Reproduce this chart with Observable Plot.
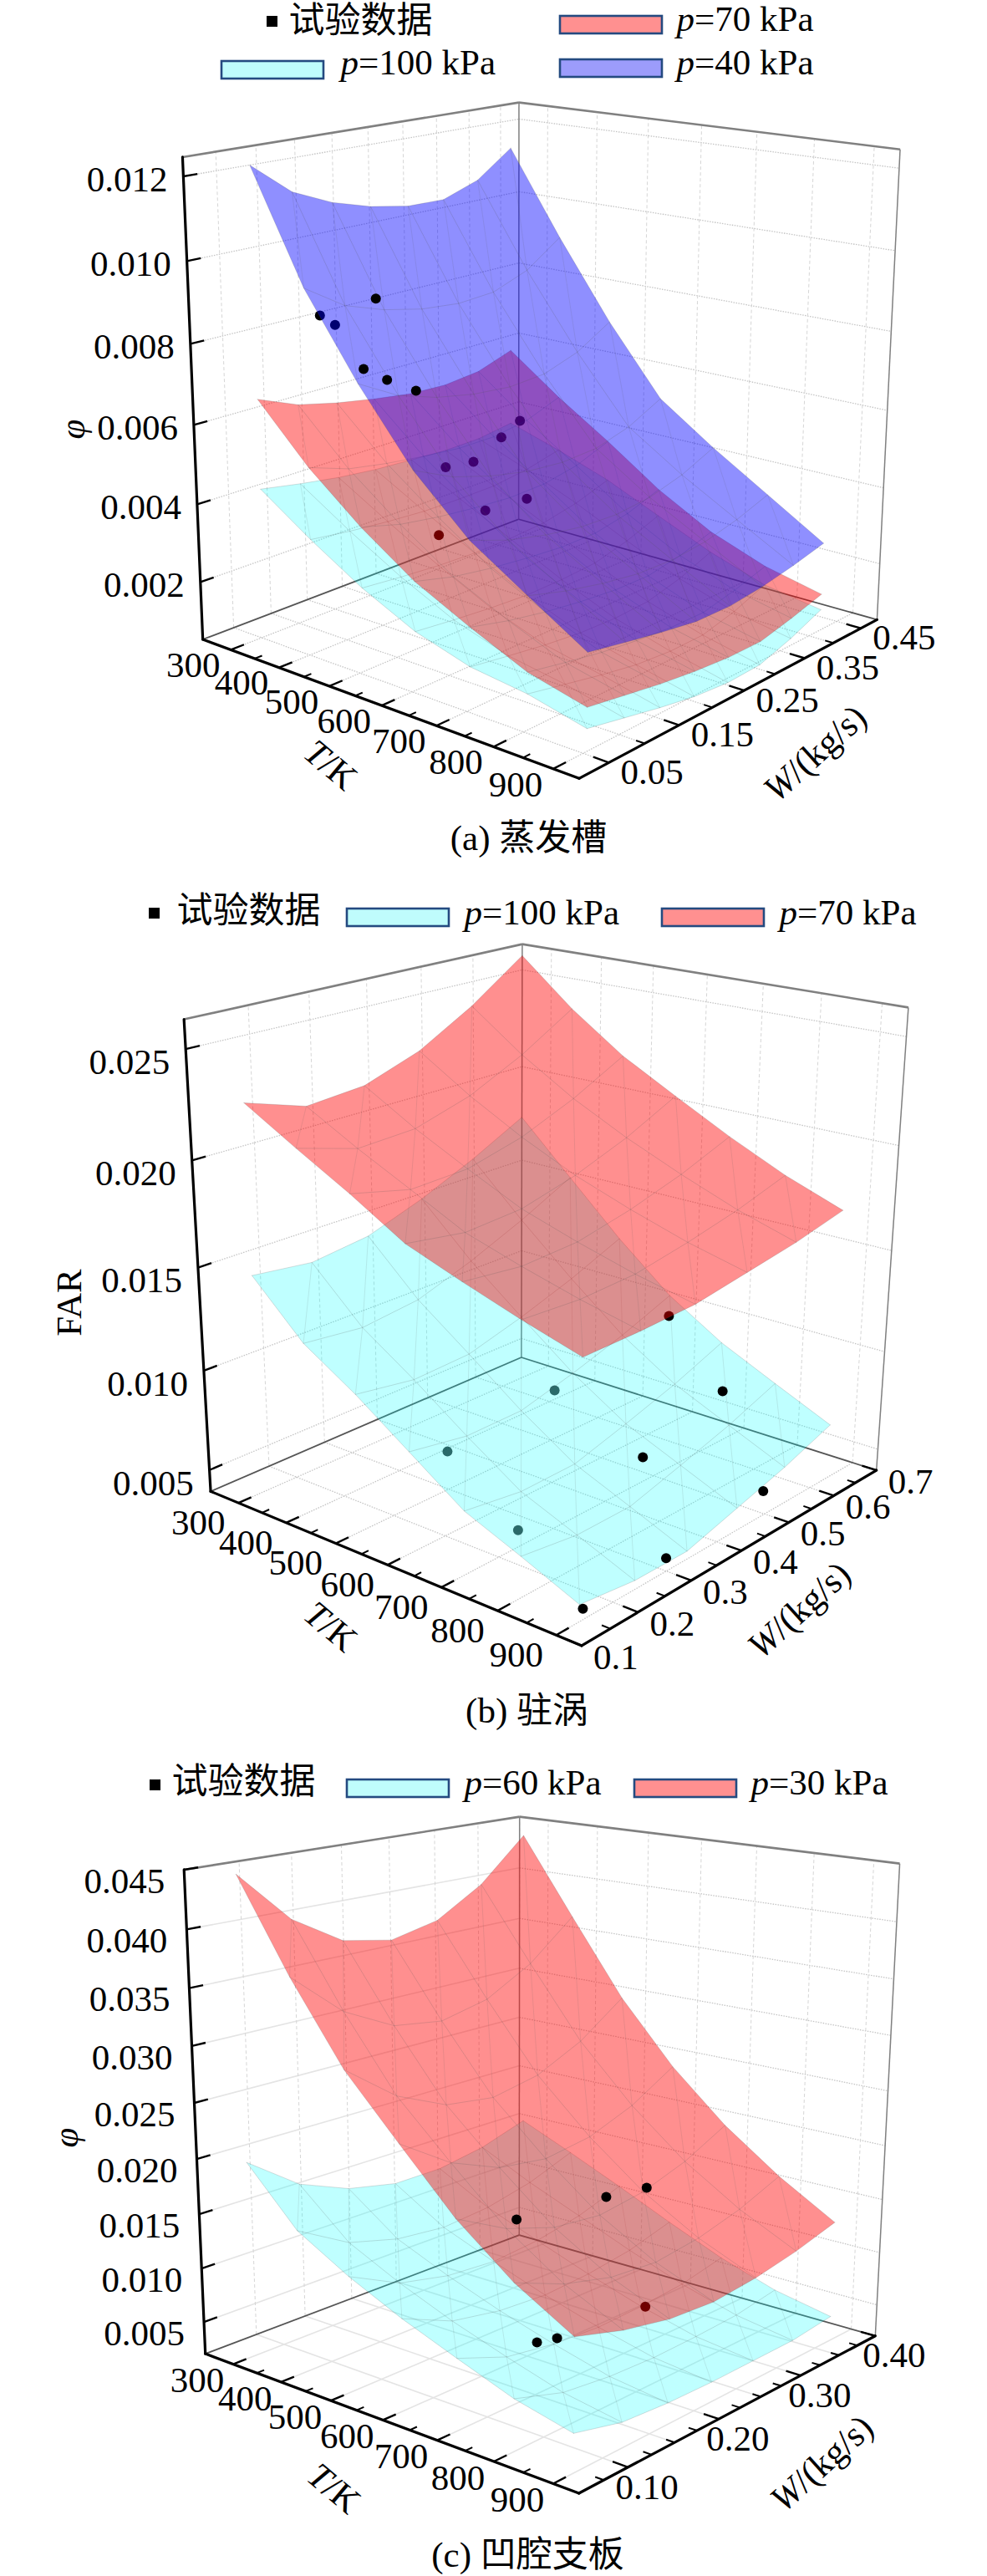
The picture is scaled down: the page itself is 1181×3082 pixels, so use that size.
<!DOCTYPE html><html><head><meta charset="utf-8"><script src="https://cdn.jsdelivr.net/npm/d3@7"></script><script src="https://cdn.jsdelivr.net/npm/@observablehq/plot@0.6"></script>
<style>html,body{margin:0;background:#fff}svg{display:block}</style></head><body><div id="chart"></div><script>
// ---------- data ----------
const temps=[300,400,500,600,700,800,900];
const minorTemps=[350,450,550,650,750,850];
// (a) 蒸发槽
const aFlows=[.055,.107,.159,.211,.264,.316,.368,.42];
const aBlue=[[.01223,.01142,.01098,.01069,.01051,.01049,.01082,.0115],[.00956,.00891,.00857,.00835,.00825,.00831,.00866,.00932],[.00758,.00702,.00669,.00649,.00639,.00645,.00676,.00731],[.00586,.00538,.00508,.00487,.00478,.00483,.00509,.00555],[.00458,.00423,.004,.00385,.00381,.00391,.00417,.00457],[.00369,.00342,.00322,.00308,.00305,.00315,.00337,.00368],[.00282,.00264,.00247,.00233,.00231,.00241,.00258,.00279]];
const aRed=[[.00658,.00616,.00592,.00574,.00559,.00555,.00565,.00597],[.00522,.00487,.00469,.00456,.00446,.00446,.00461,.00496],[.00412,.00384,.00368,.00357,.0035,.00353,.00371,.00406],[.00319,.00293,.00277,.00266,.00258,.00259,.00277,.00309],[.00251,.00227,.00209,.00196,.00187,.00186,.00203,.00231],[.00189,.0017,.00153,.00141,.00133,.00132,.00152,.00178],[.00154,.00138,.00122,.0011,.00102,.00101,.00121,.00145]];
const aCyan=[[.00432,.00413,.00397,.00386,.0038,.00375,.00377,.00391],[.00342,.00328,.00318,.00311,.0031,.00312,.00325,.00348],[.00261,.00251,.00243,.00239,.00241,.00248,.00268,.00299],[.00196,.00185,.00176,.0017,.00172,.00179,.00203,.00237],[.00155,.0014,.00126,.00116,.00113,.00118,.00141,.00176],[.00137,.00117,.00097,.0008,.00072,.00073,.00095,.00128],[.00104,.00084,.00064,.00047,.00038,.00041,.00068,.00104]];
const aPointT=[300,300,300,300,300,300,500,500,500,400,600,500,400];
const aPointW=[.216,.139,.159,.197,.23,.272,.279,.251,.21,.243,.211,.227,.232];
const aPointV=[.00833,.00825,.00792,.0066,.00614,.00563,.00543,.00516,.00477,.00408,.00418,.0034,.00233];
const aPointLayer=[3,1,1,3,3,3,1,1,1,1,1,1,1];
// (b) 驻涡
const bFlows=[.14,.24,.34,.44,.54,.64];
const bRed=[[.02264,.02173,.02195,.0229,.02442,.0263],[.02119,.02036,.02048,.02127,.02253,.02412],[.0198,.01911,.0192,.01987,.02094,.02229],[.01828,.01783,.01799,.01867,.01963,.02086],[.01734,.01702,.01715,.01772,.01849,.01947],[.01647,.0163,.01641,.01688,.01746,.01822],[.01568,.0157,.01581,.01622,.01663,.0172]];
const bCyan=[[.01466,.0143,.01464,.01559,.01676,.01812],[.0122,.01187,.01219,.01313,.01427,.01558],[.01061,.01015,.01027,.01104,.01196,.01306],[.00879,.00829,.00831,.00901,.00983,.01082],[.00696,.00654,.00658,.00733,.00815,.00915],[.00586,.00545,.00545,.00617,.00693,.00787],[.0047,.00433,.00429,.00501,.00573,.00662]];
const bPointT=[800,600,900,400,800,900,800,900,900];
const bPointW=[.407,.404,.4,.391,.363,.495,.135,.299,.146];
const bPointV=[.01379,.00856,.01117,.00374,.00756,.00512,.00715,.00454,.00441];
const bPointLayer=[1,0,2,0,2,2,0,2,2];
// (c) 凹腔支板
const cFlows=[.07,.12,.17,.22,.27,.32,.37];
const cRed=[[.04473,.04012,.03738,.03653,.03747,.04002,.04393],[.03695,.03299,.03068,.03002,.03097,.03332,.03687],[.03016,.02671,.02467,.02407,.0249,.02691,.02994],[.0251,.02211,.02027,.01966,.02029,.0219,.02435],[.02013,.01775,.01629,.01583,.01645,.01782,.01986],[.01625,.01445,.01333,.01299,.01355,.01464,.01624],[.01336,.01207,.01122,.01095,.01138,.01214,.01322]];
const cCyan=[[.01986,.01645,.01456,.01358,.01361,.01435,.01572],[.01504,.01238,.01112,.01065,.01105,.01204,.01364],[.01238,.0101,.00909,.00876,.00916,.01003,.01146],[.01018,.00818,.00734,.00705,.00735,.008,.00919],[.00832,.00656,.00585,.00557,.00574,.00614,.00704],[.00653,.00509,.00456,.00436,.00445,.00467,.00534],[.00537,.00424,.0039,.00378,.00381,.00384,.0043]];
const cPointT=[800,700,500,800,600,600];
const cPointW=[.208,.227,.246,.209,.211,.234];
const cPointV=[.01993,.01726,.01195,.00939,.00289,.00244];
const cPointLayer=[2,2,2,1,2,2];
// tick values
const aZTicks=[.002,.004,.006,.008,.010,.012], aWMajor=[.05,.15,.25,.35,.45], aWMinor=[.1,.2,.3,.4], aWGrid=[.05,.1,.15,.2,.25,.3,.35,.4,.45];
const bZTicks=[.005,.010,.015,.020,.025], bWMajor=[.1,.2,.3,.4,.5,.6,.7], bWMinor=[.15,.25,.35,.45,.55,.65], bWGrid=[.2,.3,.4,.5,.6];
const cZTicks=[.005,.010,.015,.020,.025,.030,.035,.040,.045], cWMajor=[.1,.2,.3,.4], cWMinor=[.075,.125,.15,.175,.225,.25,.275,.325,.35,.375], cWGrid=[.1,.15,.2,.25,.3,.35,.4];
// ---------- palette ----------
const CY="#00ffff",RD="#ff0000",BL="#0000ff",OP={[CY]:.25,[RD]:.44,[BL]:.44};
const SW={[CY]:"#bffcfc",[RD]:"#ff9090",[BL]:"#9c9cfb"};
const FONT="'Liberation Serif','Noto Sans CJK SC',serif",FS=43;
// ---------- camera calibration: where the box corners of each 3D frame sit ----------
const camA={T:[240,942],W:[.01,.48],Z:[.0005,.01245],A:[241,765],B:[693,931],C:[1048,741],D:[621,621],Ap:[216,188],Dp:[620,122],Cp:[1077,178],zt:[[.012,218,211],[.010,226,312],[.008,228,411],[.006,232,507],[.004,235,602],[.002,239,696]]};
const camB={T:[240,942],W:[.1,.7],Z:[.0039,.0263],A:[248.5,1784],B:[694,1969],C:[1049,1757],D:[623.5,1624],Ap:[218,1218],Dp:[623,1129],Cp:[1087,1206],zt:[[.025,222,1254],[.020,230,1388.5],[.015,239,1516],[.010,245,1640],[.005,251,1758]]};
const camC={T:[240,942],W:[.05,.40],Z:[.002,.045],A:[241,2817],B:[691,2983],C:[1047,2793],D:[621,2674],Ap:[216,2237],Dp:[620,2173],Cp:[1077,2230],zt:[[.040,224,2308],[.035,227,2377],[.030,230,2447],[.025,233,2516],[.020,236,2582],[.015,239,2648],[.010,242,2713],[.005,245,2778]]};
function lsq(A,b){const n=A[0].length,M=Array.from({length:n},()=>Array(n+1).fill(0));A.forEach((r,k)=>{for(let i=0;i<n;i++){for(let j=0;j<n;j++)M[i][j]+=r[i]*r[j];M[i][n]+=r[i]*b[k];}});
 for(let i=0;i<n;i++){let p=i;for(let r=i;r<n;r++)if(Math.abs(M[r][i])>Math.abs(M[p][i]))p=r;[M[i],M[p]]=[M[p],M[i]];for(let r=0;r<n;r++)if(r!=i){const f=M[r][i]/M[i][i];for(let c=i;c<=n;c++)M[r][c]-=f*M[i][c];}}return M.map((r,i)=>r[n]/r[i]);}
function camera(P){const an=[];const add=(u,v,w,p)=>an.push([u,v,w,p[0],p[1]]);
 add(0,0,0,P.A);add(1,0,0,P.B);add(1,1,0,P.C);add(0,1,0,P.D);add(0,0,1,P.Ap);add(1,1,1,P.Cp);add(0,1,1,P.Dp);
 P.zt.forEach(t=>add(0,0,(t[0]-P.Z[0])/(P.Z[1]-P.Z[0]),[t[1],t[2]]));
 const A=[],b=[];an.forEach(([u,v,w,x,y])=>{A.push([1,u,v,w,0,0,0,0,-x*u,-x*v,-x*w]);b.push(x);A.push([0,0,0,0,1,u,v,w,-y*u,-y*v,-y*w]);b.push(y);});
 const m=lsq(A,b);
 return(T,W,z)=>{const u=(T-P.T[0])/(P.T[1]-P.T[0]),v=(W-P.W[0])/(P.W[1]-P.W[0]),w=(z-P.Z[0])/(P.Z[1]-P.Z[0]),d=1+m[8]*u+m[9]*v+m[10]*w;return{x:(m[0]+m[1]*u+m[2]*v+m[3]*w)/d,y:(m[4]+m[5]*u+m[6]*v+m[7]*w)/d};};}
const seg=(a,b)=>{return{x1:a.x,y1:a.y,x2:b.x,y2:b.y};};
const links=(data,o)=>Plot.link(data,{x1:"x1",y1:"y1",x2:"x2",y2:"y2",...o});
const txt=(data,o)=>Plot.text(data,{x:"x",y:"y",text:"t",fontFamily:FONT,fontSize:FS,fill:"#000",...o});

function surface(pr,flows,grid,color){
 const nd=temps.map((T,i)=>flows.map((W,j)=>pr(T,W,grid[i][j])));
 const outline=[...nd[0],...nd.map(r=>r[r.length-1]).slice(1),...[...nd[nd.length-1]].reverse().slice(1),...nd.map(r=>r[0]).reverse().slice(1)];
 const mesh=[];nd.forEach((r,i)=>r.forEach(p=>mesh.push({...p,k:"r"+i})));flows.forEach((_,j)=>nd.forEach(r=>mesh.push({...r[j],k:"c"+j})));
 const diag=[];for(let i=0;i<nd.length-1;i++)for(let j=1;j<flows.length;j++)diag.push(seg(nd[i][j],nd[i+1][j-1]));
 return[Plot.line(outline,{x:"x",y:"y",fill:color,fillOpacity:OP[color],stroke:"none",curve:"linear"}),
        Plot.line(mesh,{x:"x",y:"y",z:"k",stroke:"#555",strokeOpacity:.2,strokeWidth:1}),
        links(diag,{stroke:"#555",strokeOpacity:.13,strokeWidth:1})];}

function panel(cam,o){
 const pr=camera(cam),[Ta,Tb]=cam.T,[Wa,Wb]=cam.W,[Za,Zb]=cam.Z,marks=[];
 const soft=o.soft;
 const dot={stroke:soft?"#e4e4e4":"#c4c4c4",strokeWidth:soft?1.6:1.3,strokeDasharray:soft?null:"1.5,1.5"};
 const dotR={stroke:"#c4c4c4",strokeWidth:1.3,strokeDasharray:"1.5,1.5"};
 const dash={stroke:"#d6d6d6",strokeWidth:1,strokeDasharray:"4,3"};
 // floor grid
 marks.push(links(temps.map(T=>seg(pr(T,Wa,Za),pr(T,Wb,Za))),dot));
 marks.push(links(o.wGrid.map(W=>seg(pr(Ta,W,Za),pr(Tb,W,Za))),dot));
 // wall grid
 marks.push(links(o.zTicks.map(z=>seg(pr(Ta,Wa,z),pr(Ta,Wb,z))),dot));
 marks.push(links(o.zTicks.map(z=>seg(pr(Ta,Wb,z),pr(Tb,Wb,z))),dotR));
 marks.push(links(o.wGrid.map(W=>seg(pr(Ta,W,Za),pr(Ta,W,Zb))),dash));
 marks.push(links(temps.map(T=>seg(pr(T,Wb,Za),pr(T,Wb,Zb))),dash));
 // box
 marks.push(links([seg(pr(Ta,Wa,Zb),pr(Ta,Wb,Zb)),seg(pr(Ta,Wb,Zb),pr(Tb,Wb,Zb))],{stroke:"#808080",strokeWidth:2.6}));
 marks.push(links([seg(pr(Ta,Wb,Za),pr(Ta,Wb,Zb)),seg(pr(Tb,Wb,Za),pr(Tb,Wb,Zb))],{stroke:"#808080",strokeWidth:1.5}));
 marks.push(links([seg(pr(Ta,Wa,Za),pr(Ta,Wb,Za)),seg(pr(Ta,Wb,Za),pr(Tb,Wb,Za))],{stroke:"#555",strokeWidth:1.8}));
 // surfaces and points, bottom to top
 const pts=o.pointT.map((T,i)=>({...pr(T,o.pointW[i],o.pointV[i]),l:o.pointLayer[i]}));
 const pl=l=>Plot.dot(pts.filter(d=>d.l===l),{x:"x",y:"y",r:6,fill:"#000",fillOpacity:l===0?.78:1,stroke:"none"});
 o.surfaces.forEach(([g,c],i)=>{marks.push(pl(i));marks.push(...surface(pr,o.flows,g,c));});
 marks.push(pl(o.surfaces.length));
 // axes and ticks
 marks.push(links([seg(pr(Ta,Wa,Za),pr(Ta,Wa,Zb)),seg(pr(Ta,Wa,Za),pr(Tb,Wa,Za)),seg(pr(Tb,Wa,Za),pr(Tb,Wb,Za))],{stroke:"#000",strokeWidth:3.2,strokeLinecap:"round"}));
 const dW=(Wb-Wa),dT=(Tb-Ta);
 marks.push(links(temps.map(T=>seg(pr(T,Wa,Za),pr(T,Wa+.036*dW,Za))),{stroke:"#000",strokeWidth:2.4}));
 marks.push(links(minorTemps.map(T=>seg(pr(T,Wa,Za),pr(T,Wa+.02*dW,Za))),{stroke:"#000",strokeWidth:2}));
 marks.push(links(o.wMajor.map(W=>seg(pr(Tb,W,Za),pr(Tb-.036*dT,W,Za))),{stroke:"#000",strokeWidth:2.4}));
 marks.push(links(o.wMinor.map(W=>seg(pr(Tb,W,Za),pr(Tb-.02*dT,W,Za))),{stroke:"#000",strokeWidth:2}));
 marks.push(links(o.zTicks.map(z=>seg(pr(Ta,Wa,z),pr(Ta,Wa+.036*dW,z))),{stroke:"#000",strokeWidth:2.4}));
 // tick labels
 marks.push(txt(o.zTicks.map(z=>({...pr(Ta,Wa,z),t:z.toFixed(3)})),{textAnchor:"end",dx:o.zd[0],dy:o.zd[1]}));
 marks.push(txt(temps.map(T=>({...pr(T,Wa,Za),t:String(T)})),{textAnchor:"middle",dx:o.td[0],dy:o.td[1]}));
 marks.push(txt(o.wMajor.map(W=>({...pr(Tb,W,Za),t:W.toFixed(o.wDigits)})),{textAnchor:"start",dx:o.wd[0],dy:o.wd[1]}));
 // titles
 marks.push(txt([{x:o.zTitle[0],y:o.zTitle[1],t:o.zName}],{rotate:-90,fontStyle:o.zName==="FAR"?"normal":"italic"}));
 marks.push(txt([{x:o.tTitle[0],y:o.tTitle[1],t:"*T*/K"}],{rotate:40}));
 marks.push(txt([{x:o.wTitle[0],y:o.wTitle[1],t:"*W*/(kg/s)"}],{rotate:-42}));
 marks.push(txt([{x:o.cap[0],y:o.cap[1],t:o.caption}],{lineAnchor:"bottom"}));
 return marks;}

function legend(sq,rows,swatches){
 return[Plot.rect([sq],{x1:d=>d[0],x2:d=>d[0]+13,y1:d=>d[1],y2:d=>d[1]+13,fill:"#000"}),
  txt([rows[0]],{textAnchor:"start"}),
  txt(rows.slice(1),{textAnchor:"start",lineAnchor:"bottom"}),
  Plot.rect(swatches,{x1:"x",x2:d=>d.x+122,y1:"y",y2:d=>d.y+21,fill:d=>SW[d.c],stroke:"#244a80",strokeWidth:2.6})];}

const marks=[
 ...panel(camA,{flows:aFlows,surfaces:[[aCyan,CY],[aRed,RD],[aBlue,BL]],pointT:aPointT,pointW:aPointW,pointV:aPointV,pointLayer:aPointLayer,zTicks:aZTicks,wMajor:aWMajor,wMinor:aWMinor,wGrid:aWGrid,wDigits:2,zd:[-19,4],td:[-45,19],wd:[14,12],zName:"φ",zTitle:[87,513],tTitle:[395,915],wTitle:[975,901],cap:[632,1016],caption:"(a) 蒸发槽"}),
 ...legend([319,19],[{x:345,y:25,t:"试验数据"},{x:809,y:36,t:"*p*=70 kPa"},{x:407,y:88,t:"*p*=100 kPa"},{x:809,y:88,t:"*p*=40 kPa"}],[{x:670,y:19,c:RD},{x:265,y:73,c:CY},{x:670,y:71,c:BL}]),
 ...panel(camB,{flows:bFlows,surfaces:[[bCyan,CY],[bRed,RD]],pointT:bPointT,pointW:bPointW,pointV:bPointV,pointLayer:bPointLayer,zTicks:bZTicks,wMajor:bWMajor,wMinor:bWMinor,wGrid:bWGrid,wDigits:1,zd:[-19,16],td:[-48,24],wd:[14,14],zName:"FAR",zTitle:[83,1558],tTitle:[395,1946],wTitle:[956,1926],cap:[630,2060],caption:"(b) 驻涡"}),
 ...legend([178,1086],[{x:211,y:1090,t:"试验数据"},{x:555,y:1105,t:"*p*=100 kPa"},{x:932,y:1105,t:"*p*=70 kPa"}],[{x:415,y:1087,c:CY},{x:792,y:1087,c:RD}]),
 ...panel(camC,{flows:cFlows,surfaces:[[cCyan,CY],[cRed,RD]],pointT:cPointT,pointW:cPointW,pointV:cPointV,pointLayer:cPointLayer,zTicks:cZTicks,wMajor:cWMajor,wMinor:cWMinor,wGrid:cWGrid,wDigits:2,soft:true,zd:[-23,14],td:[-43,20],wd:[-15,24],zName:"φ",zTitle:[79,2557],tTitle:[399,2977],wTitle:[983,2947],cap:[631,3070],caption:"(c) 凹腔支板"}),
 ...legend([179,2129],[{x:205,y:2132,t:"试验数据"},{x:555,y:2146,t:"*p*=60 kPa"},{x:898,y:2146,t:"*p*=30 kPa"}],[{x:415,y:2129,c:CY},{x:759,y:2129,c:RD}])
];
const svg=Plot.plot({width:1181,height:3082,margin:0,x:{domain:[0,1181],range:[0,1181],axis:null},y:{domain:[0,3082],range:[0,3082],axis:null},style:{background:"#fff",fontFamily:FONT},marks});
svg.querySelectorAll("text").forEach(t=>{const s=t.textContent;if(!s.includes("*"))return;t.textContent="";s.split("*").forEach((part,i)=>{if(!part)return;const ts=document.createElementNS("http://www.w3.org/2000/svg","tspan");ts.textContent=part;if(i%2)ts.setAttribute("font-style","italic");t.append(ts);});});
document.getElementById("chart").append(svg);
</script></body></html>
